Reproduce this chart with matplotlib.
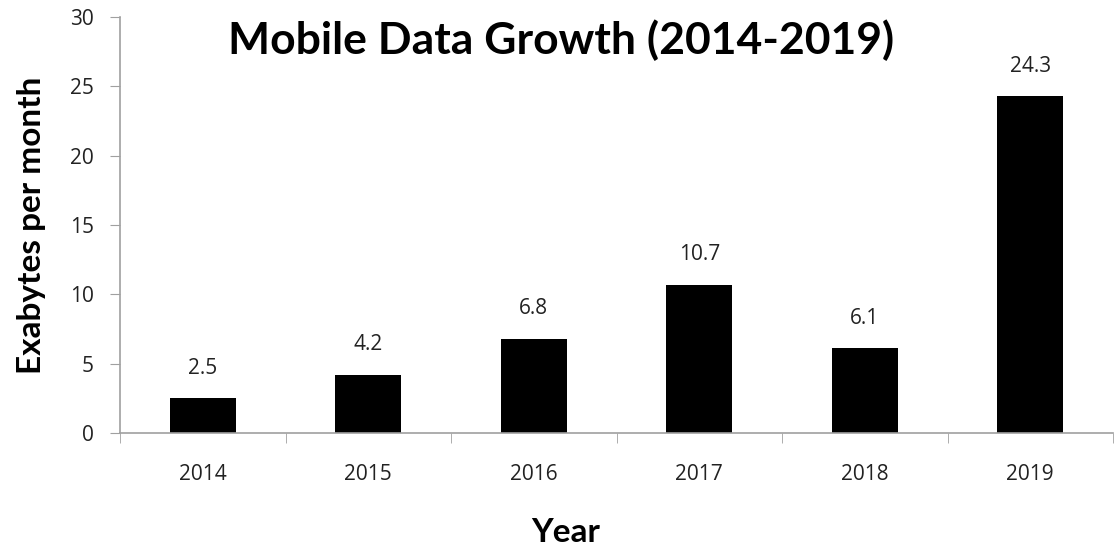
import matplotlib.pyplot as plt
import numpy as np

years = ["2014", "2015", "2016", "2017", "2018", "2019"]
exabytes = [2.5, 4.2, 6.8, 10.7, 6.1, 24.3]
value_labels = ["2.5", "4.2", "6.8", "10.7", "6.1", "24.3"]

plt.rcParams['font.family'] = ['Open Sans', 'DejaVu Sans']

fig = plt.figure(figsize=(11.14, 5.52), dpi=100)
ax = fig.add_axes([120 / 1114, 1 - 433 / 552, 993 / 1114, (433 - 17) / 552])

x = np.arange(len(years))
ax.bar(x, exabytes, width=0.4, color="black")
for xi, v, lab in zip(x, exabytes, value_labels):
    ax.annotate(lab, (xi, v), xytext=(0, 14), textcoords="offset points",
                ha="center", va="bottom", fontsize=15, color="#222222")

ax.set_xlim(-0.5, len(years) - 0.5)
ax.set_ylim(0, 30)
ax.set_yticks(range(0, 31, 5))
ax.set_xticks(x)
ax.set_xticklabels(years)
# category separators like in Excel
ax.set_xticks(np.arange(-0.5, len(years), 1), minor=True)
ax.tick_params(axis="x", which="major", length=0, pad=22, labelsize=15, labelcolor="#222222")
ax.tick_params(axis="x", which="minor", length=7, color="#a0a0a0", direction="out")
ax.tick_params(axis="y", length=7, color="#a0a0a0", labelsize=15, labelcolor="#222222", pad=12)

for s in ["top", "right"]:
    ax.spines[s].set_visible(False)
for s in ["left", "bottom"]:
    ax.spines[s].set_color("#a0a0a0")
    ax.spines[s].set_linewidth(1.2)

fig.text(561 / 1114, 1 - 40 / 552, "Mobile Data Growth (2014-2019)", ha="center", va="center",
         fontsize=32, fontweight="bold", family=["Lato", "DejaVu Sans"])
fig.text(32 / 1114, 1 - 225 / 552, "Exabytes per month", rotation=90, ha="center", va="center",
         fontsize=24, fontweight="bold", family=["Lato", "DejaVu Sans"])
fig.text(566 / 1114, 1 - 533 / 552, "Year", ha="center", va="center",
         fontsize=24, fontweight="bold", family=["Lato", "DejaVu Sans"])

fig.savefig("out.png", dpi=100)
